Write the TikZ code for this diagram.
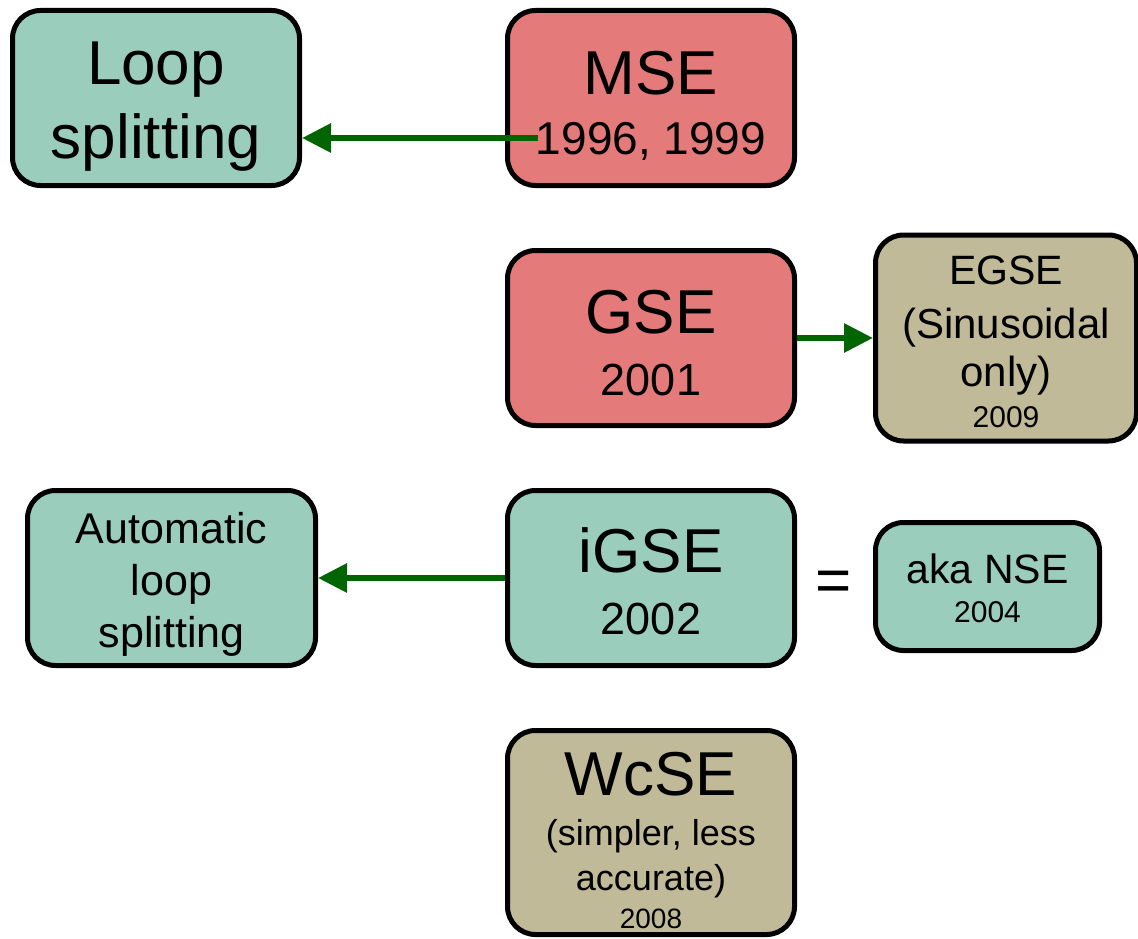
\documentclass[tikz,border=0pt]{standalone}
\usepackage{fontspec}
\setmainfont{Liberation Sans}
\usetikzlibrary{arrows.meta}
\definecolor{tealfill}{RGB}{155,205,188}
\definecolor{redfill}{RGB}{228,122,122}
\definecolor{tanfill}{RGB}{192,186,152}
\definecolor{arrowgreen}{RGB}{0,100,0}
\newcommand\myfs[1]{\fontsize{#1}{#1}\selectfont}
\tikzset{
  box/.style={draw=black, line width=5pt, rounded corners=28pt, inner sep=0pt},
  tealbox/.style={box, fill=tealfill},
  redbox/.style={box, fill=redfill},
  tanbox/.style={box, fill=tanfill},
  txt/.style={inner sep=0pt, anchor=base},
  arr/.style={draw=arrowgreen, line width=6pt, -{Triangle[length=29pt,width=28pt]}}
}
\begin{document}
\begin{tikzpicture}[x=1pt,y=-1pt]
\useasboundingbox (0,0) rectangle (1138,939);
% boxes
\node[tealbox, minimum width=287pt, minimum height=175pt] (loopbox) at (156,98) {};
\node[redbox,  minimum width=287pt, minimum height=175pt] (mse) at (651,98) {};
\node[redbox,  minimum width=287pt, minimum height=175pt] (gse) at (651,338) {};
\node[tanbox,  minimum width=261pt, minimum height=206pt] (egse) at (1006,338) {};
\node[tealbox, minimum width=288pt, minimum height=175pt] (auto) at (171.5,578) {};
\node[tealbox, minimum width=287pt, minimum height=175pt] (igse) at (651,578) {};
\node[tealbox, minimum width=224pt, minimum height=128pt] (nse) at (987.5,586.5) {};
\node[tanbox,  minimum width=287pt, minimum height=204pt] (wcse) at (651,832.5) {};
% texts
\node[txt, font=\myfs{62}] (loopA) at (156,85) {Loop};
\node[txt, font=\myfs{62}] (loopB) at (156,158) {splitting};
\node[txt, font=\myfs{62}] (mseA) at (651,95) {MSE};
\node[txt, font=\myfs{46}] (mseB) at (651,155) {1996, 1999};
\node[txt, font=\myfs{62}] (gseA) at (651,333) {GSE};
\node[txt, font=\myfs{45}] (gseB) at (651,395) {2001};
\node[txt, font=\myfs{41}] (egseA) at (1006,284) {EGSE};
\node[txt, font=\myfs{42}] (egseB) at (1006,338) {(Sinusoidal};
\node[txt, font=\myfs{42}] (egseC) at (1006,386) {only)};
\node[txt, font=\myfs{30}] (egseD) at (1006,427) {2009};
\node[txt, font=\myfs{43}] (autoA) at (171.5,543) {Automatic};
\node[txt, font=\myfs{43}] (autoB) at (171.5,595) {loop};
\node[txt, font=\myfs{43}] (autoC) at (171.5,647) {splitting};
\node[txt, font=\myfs{62}] (igseA) at (651,572) {iGSE};
\node[txt, font=\myfs{45}] (igseB) at (651,634) {2002};
\node[txt, font=\myfs{41}] (nseA) at (987.5,583) {aka NSE};
\node[txt, font=\myfs{30}] (nseB) at (987.5,622) {2004};
\node[txt, font=\myfs{62}] (wcseA) at (651,795) {WcSE};
\node[txt, font=\myfs{36}] (wcseB) at (651,845) {(simpler, less};
\node[txt, font=\myfs{36}] (wcseC) at (651,890) {accurate)};
\node[txt, font=\myfs{28}] (wcseD) at (651,928) {2008};
\node[inner sep=0pt, font=\myfs{62}] (eq) at (834,586) {=};
% arrows
\draw[arr] ([xshift=33pt,yshift=-40pt]mse.west) -- ([yshift=-40pt]loopbox.east);
\draw[arr] (gse.east) -- (gse.east -| egse.west);
\draw[arr] (igse.west) -- (auto.east);
\end{tikzpicture}
\end{document}
